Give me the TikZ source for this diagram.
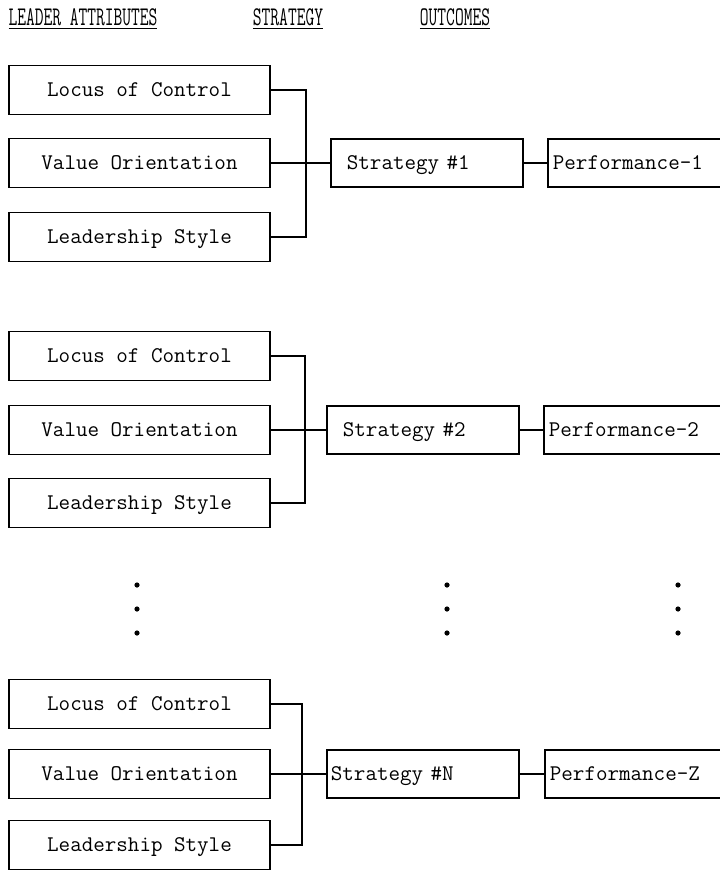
\documentclass[tikz,border=0pt]{standalone}
\usepackage{graphicx}
\newcommand{\hdr}[1]{\scalebox{0.63}[1]{\fontsize{13.5}{15}\selectfont\underline{#1}}}
\tikzset{
  attrbox/.style={draw,line width=0.9pt,minimum width=130.5pt,minimum height=24.5pt,inner sep=0pt,text height=1.9ex,text depth=0.4ex},
  stratbox/.style={draw,line width=0.9pt,text width=80pt,inner xsep=8pt,inner ysep=0pt,minimum height=24pt,align=left,text height=1.9ex,text depth=0.4ex},
  perfbox/.style={draw,line width=0.9pt,text width=84pt,inner xsep=2.5pt,inner ysep=0pt,minimum height=24pt,align=left,text height=1.9ex,text depth=0.4ex},
  link/.style={line width=0.9pt}
}

\begin{document}
\begin{tikzpicture}[x=0.5pt,y=-0.5pt,font=\ttfamily\fontsize{11.2}{13}\selectfont]
  \useasboundingbox (0,0) rectangle (719,872);
  % headings
  \node (hlead) at (83,19) {\hdr{LEADER ATTRIBUTES}};
  \node (hstrat) at (288,19) {\hdr{STRATEGY}};
  \node (hout) at (455,19) {\hdr{OUTCOMES}};

  % first leader
  \node[attrbox] (loc1) at (139.5,90) {Locus of Control};
  \node[attrbox] (val1) at (139.5,163) {Value Orientation};
  \node[attrbox] (lead1) at (139.5,237) {Leadership Style};
  \node[stratbox,anchor=west] (strat1) at (330,163) {Strategy \#1};
  \node[perfbox,anchor=west] (perf1) at (547,163) {Performance-1};
  \coordinate (bus1) at (306,163);
  \draw[link] (loc1.east) -| (bus1) |- (lead1.east);
  \draw[link] (val1.east) -- (strat1.west);
  \draw[link] (strat1.east) -- (perf1.west);

  % second leader
  \node[attrbox] (loc2) at (139.5,356) {Locus of Control};
  \node[attrbox] (val2) at (139.5,430) {Value Orientation};
  \node[attrbox] (lead2) at (139.5,503) {Leadership Style};
  \node[stratbox,anchor=west] (strat2) at (326,430) {Strategy \#2};
  \node[perfbox,anchor=west] (perf2) at (543,430) {Performance-2};
  \coordinate (bus2) at (305,430);
  \draw[link] (loc2.east) -| (bus2) |- (lead2.east);
  \draw[link] (val2.east) -- (strat2.west);
  \draw[link] (strat2.east) -- (perf2.west);

  % gap between leaders
  \fill (137,585) circle (1.3pt) (137,609) circle (1.3pt) (137,633) circle (1.3pt);
  \fill (447,585) circle (1.3pt) (447,609) circle (1.3pt) (447,633) circle (1.3pt);
  \fill (678,585) circle (1.3pt) (678,609) circle (1.3pt) (678,633) circle (1.3pt);

  % last leader
  \node[attrbox] (loc3) at (139.5,704) {Locus of Control};
  \node[attrbox] (val3) at (139.5,774) {Value Orientation};
  \node[attrbox] (lead3) at (139.5,845) {Leadership Style};
  \node[stratbox,anchor=west,inner xsep=2pt,text width=92pt] (strat3) at (326,774) {Strategy \#N};
  \node[perfbox,anchor=west] (perf3) at (544,774) {Performance-Z};
  \coordinate (bus3) at (302,774);
  \draw[link] (loc3.east) -| (bus3) |- (lead3.east);
  \draw[link] (val3.east) -- (strat3.west);
  \draw[link] (strat3.east) -- (perf3.west);
\end{tikzpicture}
\end{document}
